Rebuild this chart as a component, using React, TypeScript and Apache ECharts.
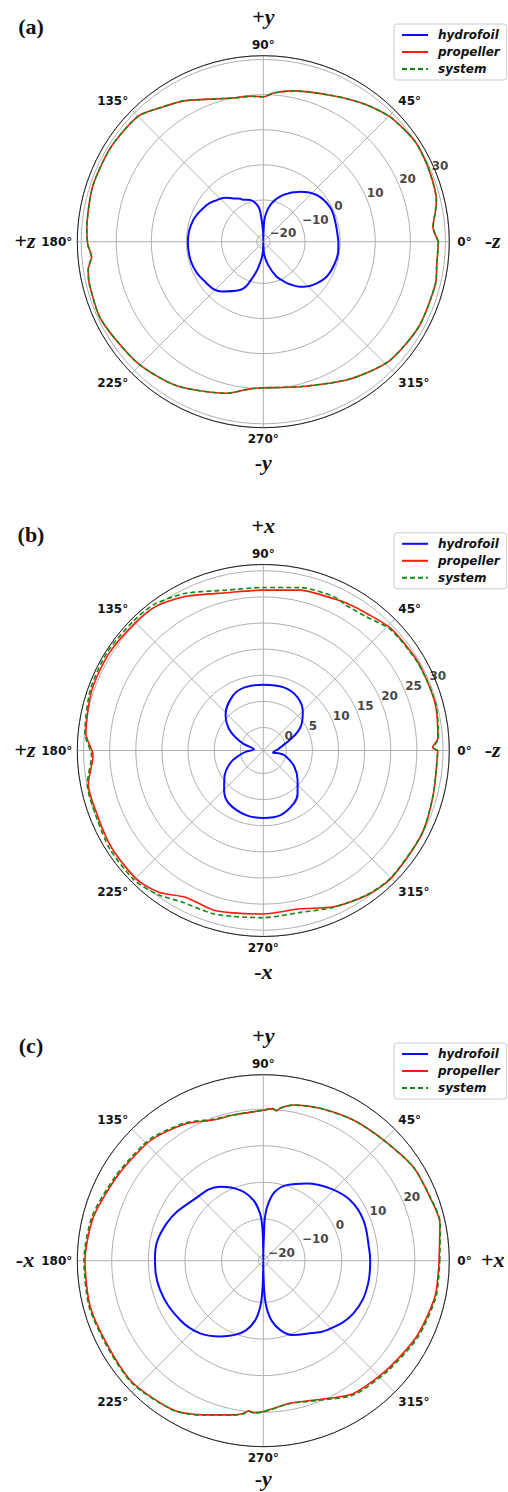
import React, { useEffect, useRef } from 'react';
import * as echarts from 'echarts';

const W = 508;
const H = 1492;

// ---------- texts ----------
const panelLabels = ['(a)', '(b)', '(c)'];
const topNames = ['+y', '+x', '+y'];
const bottomNames = ['-y', '-x', '-y'];
const leftNames = ['+z', '+z', '-x'];
const rightNames = ['-z', '-z', '+x'];
const seriesNames = ['hydrofoil', 'propeller', 'system'];

// ---------- radial axes ----------
const radialTicksA = [-20, -10, 0, 10, 20, 30];
const radialTicksB = [0, 5, 10, 15, 20, 25, 30];
const radialTicksC = [-20, -10, 0, 10, 20];
const radialRangeA = [-21.9, 31.1];
const radialRangeB = [-4.4, 31.2];
const radialRangeC = [-21.4, 29.4];
const radialStep = [10, 5, 10];
const angleStep = 45;

// ---------- data: [angle (deg), level] ----------
const hydrofoilA = [
  [0, -0.5], [16.8, -0.6], [27.7, -0.5], [41.2, -1.7], [53.7, -4.2], [66.8, -7.4], [77.8, -10.7],
  [86, -14.7], [88.5, -18.5], [90, -21.6], [91.5, -19], [95, -14.7], [98, -11.8], [107.7, -9.4],
  [116, -8.6], [118, -8.0], [124.7, -6.9], [131, -5.3], [138.2, -4.1], [147, -2.7], [163, -1.0],
  [180, -0.4], [197, -0.6], [212.6, -1.6], [230, -3.4], [244, -6.6], [254, -11.5], [263, -16.5],
  [268, -19.5], [270, -21.6], [273.4, -18.5], [282.1, -15.0], [290.8, -11.2], [297, -9.3],
  [299.6, -8.3], [302, -7.6], [309.2, -5.3], [319.1, -3.1], [331, -1.3], [343.2, -0.6], [353.7, -0.4],
];
const propellerA = [
  [0, 28.0], [5, 26.6], [10, 27.9], [13.4, 28.8], [24.2, 29.6], [33.6, 29.9], [44.3, 28.8],
  [53.3, 26.9], [64.5, 24.2], [78.8, 21.9], [86, 20.6], [90, 19.4], [95, 19.7], [101.7, 19.9],
  [119.5, 24.2], [127.4, 26.2], [135, 28.6], [148, 29.2], [162, 29.2], [176, 28.5], [181, 28.1],
  [185, 27.2], [189, 28.6], [193.4, 29.1], [205.6, 29.4], [223.8, 27.9], [239, 26.0], [256.5, 22.5],
  [265, 20.2], [270, 19.7], [284, 20.7], [302, 24.3], [316.5, 27.5], [331.5, 28.6], [346.6, 28.6],
  [352, 28.0],
];
const systemA = [
  [0, 28.0], [5, 26.7], [10, 27.9], [13.4, 28.8], [24.2, 29.6], [33.6, 29.9], [44.3, 28.8],
  [53.3, 26.9], [64.5, 24.2], [78.8, 21.9], [86, 20.6], [90, 19.4], [95, 19.7], [101.7, 19.9],
  [119.5, 24.2], [127.4, 26.2], [135, 28.6], [148, 29.2], [162, 29.2], [176, 28.5], [181, 28.1],
  [185, 27.3], [189, 28.6], [193.4, 29.1], [205.6, 29.4], [223.8, 27.9], [239, 26.0], [256.5, 22.5],
  [265, 20.2], [270, 19.7], [284, 20.7], [302, 24.3], [316.5, 27.5], [331.5, 28.6], [346.6, 28.6],
  [352, 28.0],
];
const hydrofoilB = [
  [4.3, -1.6], [16.7, -0.15], [25.5, 2.2], [33.5, 4.3], [44.5, 6.2], [57.2, 7.7], [72, 8.3],
  [90, 8.2], [106.5, 8.2], [119, 7.6], [136.9, 5.5], [147.8, 3.4], [156, 1.1], [161.8, -0.5],
  [173, -2.6], [182.7, -1.3], [190.4, 0.1], [201, 2.4], [214.3, 4.6], [225.5, 6.3], [237, 7.7],
  [255, 8.4], [270, 8.5], [285, 8.4], [300, 7.3], [308.2, 6.2], [319, 4.3], [332.4, 2.3],
  [345.3, 0.1], [349.5, -1.1], [348.4, -2.5],
];
const propellerB = [
  [0, 29.0], [1, 28.0], [4, 29.1], [15.4, 29.7], [29.5, 29.7], [43.4, 29.4], [52.6, 28.5],
  [60.4, 28.0], [65.1, 27.6], [77, 27.1], [90, 26.3], [103, 26.6], [116.6, 28.6], [126.7, 30.0],
  [135, 30.2], [147.8, 30.5], [160.6, 30.4], [174.6, 29.7], [181.7, 28.2], [190.9, 29.7], [202, 29.7],
  [212.8, 30.1], [225, 30.2], [233.6, 29.3], [242, 27.4], [252.5, 27.6], [259.5, 27.2], [270, 26.9],
  [283, 26.7], [294.3, 28.4], [305.8, 29.7], [315, 30.2], [332, 29.9], [345.6, 29.2],
];
const systemB = [
  [0, 29.0], [1, 28.2], [4, 29.2], [15.4, 29.8], [29.5, 29.6], [43.4, 29.2], [52.6, 27.9],
  [60.4, 27.6], [65.1, 28.0], [77, 27.6], [90, 26.8], [103, 27.1], [116.6, 29.2], [126.7, 30.5],
  [135, 30.7], [147.8, 30.9], [160.6, 30.7], [174.6, 29.9], [181.7, 28.5], [190.9, 29.9], [202, 30.0],
  [212.8, 30.5], [225, 30.6], [233.6, 29.8], [242, 28.5], [252.5, 28.3], [259.5, 27.9], [270, 27.6],
  [283, 27.4], [294.3, 28.5], [305.8, 29.6], [315, 30.1], [332, 29.9], [345.6, 29.2],
];
const hydrofoilC = [
  [0, 7.8], [5.8, 7.7], [22.1, 8.1], [35, 7.5], [47.3, 5.5], [60.7, 2.8], [72.9, 0.2], [80.4, -2.3],
  [85, -5.7], [87.8, -9.4], [88.5, -13.9], [89.6, -19], [90, -21.2], [90.4, -19], [91.7, -12.1],
  [94, -8.4], [99.4, -4.6], [108.2, -1.1], [120.3, 2.0], [139, 3.9], [158.9, 6.9], [177.9, 8.2],
  [195.8, 7.9], [215.5, 6.5], [229, 4.9], [240.3, 2.4], [249, 0.3], [256, -1.8], [262, -4.8],
  [266, -8.5], [268, -12.5], [269.5, -19], [270, -21.2], [270.5, -19], [272, -12.5], [274, -8.5],
  [278, -4.8], [284, -1.8], [291, 0.3], [300.8, 1.8], [312.4, 4.3], [329.7, 7.1], [347.8, 7.9],
];
const propellerC = [
  [0, 26.6], [11.9, 27.9], [21, 27.3], [32, 26.9], [45.2, 25.1], [57.4, 24.2], [69.6, 23.0],
  [79, 21.9], [83.5, 20.6], [85, 19.7], [86.5, 20.2], [90, 19.7], [101.6, 19.2], [109.6, 19.4],
  [119.2, 21.5], [130.7, 23.3], [136.5, 23.8], [150.2, 24.7], [165.5, 26.5], [180, 27.3],
  [194.9, 27.5], [210.2, 27.0], [223.3, 27.4], [238.9, 26.2], [248.7, 23.8], [259, 21.5],
  [262.5, 20.7], [264.5, 19.8], [266.5, 20.2], [270, 19.8], [280.6, 18.2], [291, 19.3], [304, 22.4],
  [318.4, 23.6], [333.6, 25.3], [348.2, 26.5],
];
const systemC = [
  [0, 26.8], [11.9, 28.0], [21, 27.4], [32, 26.9], [45.2, 25.1], [57.4, 24.2], [69.6, 23.0],
  [79, 21.9], [83.5, 20.6], [85, 19.8], [86.5, 20.2], [90, 19.7], [101.6, 19.3], [109.6, 19.6],
  [119.2, 21.8], [130.7, 23.7], [136.5, 24.2], [150.2, 25.1], [165.5, 26.9], [180, 27.6],
  [194.9, 27.8], [210.2, 27.3], [223.3, 27.6], [238.9, 26.3], [248.7, 23.9], [259, 21.6],
  [262.5, 20.8], [264.5, 19.9], [266.5, 20.3], [270, 19.9], [280.6, 18.3], [291, 19.5], [304, 22.8],
  [318.4, 24.0], [333.6, 25.7], [348.2, 26.8],
];

const hydrofoilSets = [hydrofoilA, hydrofoilB, hydrofoilC];
const propellerSets = [propellerA, propellerB, propellerC];
const systemSets = [systemA, systemB, systemC];
const radialTicks = [radialTicksA, radialTicksB, radialTicksC];
const radialRanges = [radialRangeA, radialRangeB, radialRangeC];

// ---------- layout ----------
const CX = 263.3;
const CYS = [241.7, 750.5, 1260.7];
const R = 186;
const LINE_COLORS = ['#0a0aff', '#ff1a0a', '#118a11'];
const SMOOTH = [0.4, 0.25, 0.25];
const TICK_FONT = '"DejaVu Sans", Verdana, sans-serif';
const SERIF = '"Liberation Serif", "Times New Roman", serif';

const closeLoop = (pts: number[][]) => {
  const d = pts.map((p) => [p[1], p[0]]);
  d.push([pts[0][1], pts[0][0]]);
  return d;
};

const fmtTick = (v: number) => (v < 0 ? '\u2212' + Math.abs(v) : String(v));

const axisName = (text: string, x: number, y: number) => {
  const sign = text.charAt(0);
  const letter = text.slice(1);
  return {
    type: 'text',
    x,
    y,
    z: 50,
    style: {
      text: `{s|${sign}}{l|${letter}}`,
      align: 'center',
      verticalAlign: 'middle',
      rich: {
        s: { fontFamily: SERIF, fontSize: 22, fontWeight: 'bold', fill: '#111' },
        l: { fontFamily: SERIF, fontSize: 22, fontWeight: 'bold', fontStyle: 'italic', fill: '#111' },
      },
    },
  };
};

function buildOption() {
  const polar: any[] = [];
  const angleAxis: any[] = [];
  const radiusAxis: any[] = [];
  const series: any[] = [];
  const legend: any[] = [];
  const graphic: any[] = [];

  for (let i = 0; i < 3; i++) {
    const cy = CYS[i];
    const off = cy - CYS[0];
    polar.push({ center: [CX, cy], radius: R });
    angleAxis.push({
      polarIndex: i,
      type: 'value',
      min: 0,
      max: 360,
      interval: angleStep,
      startAngle: 0,
      clockwise: false,
      axisLine: { show: true, lineStyle: { color: '#222', width: 1 } },
      axisTick: { show: false },
      splitLine: { show: true, lineStyle: { color: '#b0b0b0', width: 1 } },
      axisLabel: {
        show: true,
        margin: 5,
        color: '#111',
        fontFamily: TICK_FONT,
        fontSize: 12,
        fontWeight: 'bold',
        formatter: (v: number) => (v === 0 ? '{z|0°}' : v >= 360 ? '' : v + '°'),
        rich: {
          z: {
            padding: [0, 0, 0, 3],
            color: '#111',
            fontFamily: TICK_FONT,
            fontSize: 12,
            fontWeight: 'bold',
          },
        },
      },
    });
    radiusAxis.push({
      polarIndex: i,
      type: 'value',
      min: radialRanges[i][0],
      max: radialRanges[i][1],
      minInterval: radialStep[i],
      maxInterval: radialStep[i],
      axisLine: { show: false },
      axisTick: { show: false },
      axisLabel: { show: false },
      splitLine: { show: true, lineStyle: { color: '#b0b0b0', width: 1 } },
    });

    const sets = [hydrofoilSets[i], propellerSets[i], systemSets[i]];
    sets.forEach((pts, k) => {
      series.push({
        name: seriesNames[k],
        type: 'line',
        coordinateSystem: 'polar',
        polarIndex: i,
        data: closeLoop(pts),
        symbol: 'none',
        smooth: SMOOTH[k],
        color: LINE_COLORS[k],
        lineStyle: {
          color: LINE_COLORS[k],
          width: k === 0 ? 2 : 1.6,
          type: k === 2 ? [5, 3] : 'solid',
        },
        z: 10 + k,
        silent: true,
      });
    });

    series.push({
      type: 'scatter',
      coordinateSystem: 'polar',
      polarIndex: i,
      data: radialTicks[i].map((t) => [t, 22.5]),
      symbolSize: 0.1,
      itemStyle: { color: 'transparent' },
      silent: true,
      z: 20,
      label: {
        show: true,
        position: 'right',
        distance: 0,
        offset: [0, -6],
        formatter: (p: any) => fmtTick(p.value[0]),
        color: '#111',
        fontFamily: TICK_FONT,
        fontSize: 12,
        fontWeight: 'bold',
      },
    });

    legend.push({
      data: seriesNames,
      orient: 'vertical',
      left: 394,
      top: 24 + off,
      padding: [5, 7, 5, 7],
      itemWidth: 26,
      itemHeight: 14,
      itemGap: 5,
      backgroundColor: '#ffffff',
      borderColor: '#cccccc',
      borderWidth: 1,
      borderRadius: 3,
      selectedMode: false,
      z: 30,
      itemStyle: { opacity: 0 },
      textStyle: {
        color: '#111',
        fontFamily: TICK_FONT,
        fontSize: 12,
        fontWeight: 'bold',
        fontStyle: 'italic',
        padding: [0, 0, 0, 5],
      },
    });

    graphic.push({
      type: 'text',
      x: 31,
      y: 26 + off,
      z: 50,
      style: {
        text: panelLabels[i],
        align: 'center',
        verticalAlign: 'middle',
        fontFamily: SERIF,
        fontSize: 22,
        fontWeight: 'bold',
        fill: '#111',
      },
    });
    graphic.push(axisName(topNames[i], CX, cy - 225));
    graphic.push(axisName(bottomNames[i], CX, Math.min(cy + 221, 1478)));
    graphic.push(axisName(leftNames[i], 25, cy - 1));
    graphic.push(axisName(rightNames[i], 492.7, cy - 1));
  }

  return {
    animation: false,
    backgroundColor: '#ffffff',
    polar,
    angleAxis,
    radiusAxis,
    legend,
    series,
    graphic,
  };
}

export default function App() {
  const ref = useRef<HTMLDivElement>(null);
  useEffect(() => {
    if (!ref.current) return;
    const chart = echarts.init(ref.current, undefined, { renderer: 'svg', width: W, height: H });
    chart.setOption(buildOption() as any);
    return () => chart.dispose();
  }, []);
  return (
    <div
      ref={ref}
      style={{ position: 'absolute', left: 0, top: 0, width: W, height: H, background: '#fff' }}
    />
  );
}
